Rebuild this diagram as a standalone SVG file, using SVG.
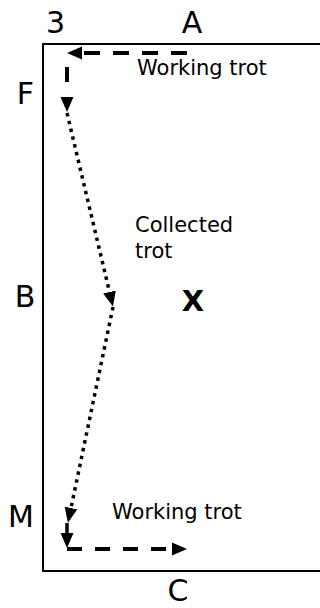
<svg xmlns="http://www.w3.org/2000/svg" width="320" height="608" viewBox="0 0 320 608">
<style>
.lbl{font-family:"DejaVu Sans","Liberation Sans",sans-serif;font-size:30px;fill:#000;text-anchor:middle}
.note{font-family:"DejaVu Sans","Liberation Sans",sans-serif;font-size:21px;fill:#000}
.dash{fill:none;stroke:#000;stroke-width:4;stroke-dasharray:16 13}
.dot{fill:none;stroke:#000;stroke-width:3.5;stroke-dasharray:3.5 4.5}
.solid{fill:none;stroke:#000;stroke-width:3.5}
</style>
<defs>
<marker id="ah" markerUnits="userSpaceOnUse" markerWidth="16" markerHeight="14" viewBox="0 -7 16 14" refX="0" refY="0" orient="auto">
<path d="M0,-6.5 L15,0 L0,6.5 Z" fill="#000"/>
</marker>
</defs>
<g id="arena">
<rect x="43" y="44" width="300" height="527" fill="none" stroke="#000" stroke-width="2"/>
</g>
<g id="letters">
<text class="lbl" x="55.5" y="33">3</text>
<text class="lbl" x="192" y="33">A</text>
<text class="lbl" x="25.5" y="104">F</text>
<text class="lbl" x="25" y="307">B</text>
<text class="lbl" x="21" y="527">M</text>
<text class="lbl" x="178" y="601">C</text>
<text x="193" y="311" style="font-family:'DejaVu Sans','Liberation Sans',sans-serif;font-size:29px;font-weight:bold;text-anchor:middle">X</text>
</g>
<g id="labels">
<text class="note" x="137" y="75">Working trot</text>
<text class="note" x="135" y="232">Collected</text>
<text class="note" x="135" y="258">trot</text>
<text class="note" x="112" y="519">Working trot</text>
</g>
<g id="connectors">
<path class="dash" d="M187,53 H82" marker-end="url(#ah)"/>
<path d="M67,67 V97" fill="none" stroke="#000" stroke-width="4" stroke-dasharray="15 20" marker-end="url(#ah)"/>
<path class="dot" d="M67,113 L109.5,292" marker-end="url(#ah)"/>
<path class="dot" d="M113,307 L71,508" marker-end="url(#ah)"/>
<path class="solid" d="M67,523 V533" marker-end="url(#ah)"/>
<path d="M67,549 H172" fill="none" stroke="#000" stroke-width="4" stroke-dasharray="15 13" marker-end="url(#ah)"/>
</g>
</svg>
